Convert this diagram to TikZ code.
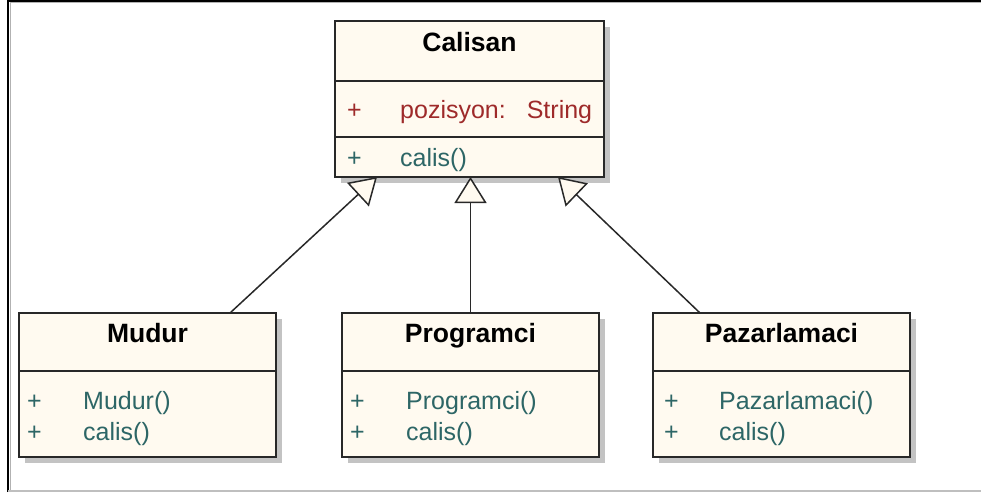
\documentclass[tikz,border=0pt]{standalone}
\usepackage{fontspec}
\setmainfont{Liberation Sans}
\usetikzlibrary{arrows.meta,shadows,calc}

\definecolor{umlfill}{RGB}{255,250,240}
\definecolor{umlline}{RGB}{40,40,40}
\definecolor{attrred}{RGB}{158,42,42}
\definecolor{opteal}{RGB}{45,102,102}
\definecolor{shadowgray}{RGB}{195,195,195}

\begin{document}
\begin{tikzpicture}[x=1pt,y=-1pt,
  classbox/.style={draw=umlline, line width=1.8pt, fill=umlfill,
    inner sep=0pt, outer sep=0pt, anchor=north west,
    drop shadow={shadow xshift=6pt, shadow yshift=-6pt,
      fill=shadowgray, opacity=1}},
  sepline/.style={draw=umlline, line width=1.8pt},
  classtitle/.style={font=\fontsize{26.5}{30}\selectfont\bfseries,
    anchor=base, inner sep=0pt, text=black},
  member/.style={font=\fontsize{25}{29}\selectfont,
    anchor=base west, inner sep=0pt},
  attr/.style={member, text=attrred},
  oper/.style={member, text=opteal},
  inherits/.style={draw=umlline, line width=1.5pt,
    -{Triangle[open, length=26pt, width=32pt, fill=umlfill]}}
]
\useasboundingbox (0,0) rectangle (981,492);

% window frame
\draw[black, line width=2pt] (8,492) -- (8,1) -- (981,1);
\draw[gray!60, line width=1pt] (10,492) -- (10,3) -- (981,3);
\draw[gray!50, line width=1.5pt] (8,491) -- (981,491);

% superclass
\node[classbox, minimum width=269pt, minimum height=156pt] (calisan) at (335,21) {};
\draw[sepline] ($(calisan.north west)+(0,60)$) -- ($(calisan.north east)+(0,60)$);
\draw[sepline] ($(calisan.north west)+(0,116)$) -- ($(calisan.north east)+(0,116)$);
\node[classtitle] (calisan-t) at (469.5,52) {Calisan};
\node[attr] (calisan-ap) at (347,118) {+};
\node[attr] (calisan-a) at (400,118) {pozisyon:\hskip 21pt String};
\node[oper] (calisan-op) at (347,166) {+};
\node[oper] (calisan-o) at (400,166) {calis()};

% subclasses
\node[classbox, minimum width=257pt, minimum height=144pt] (mudur) at (19,313) {};
\node[classbox, minimum width=257pt, minimum height=144pt] (programci) at (342,313) {};
\node[classbox, minimum width=257pt, minimum height=144pt] (pazarlamaci) at (653,313) {};
\foreach \c in {mudur,programci,pazarlamaci}
  \draw[sepline] ($(\c.north west)+(0,58)$) -- ($(\c.north east)+(0,58)$);

\node[classtitle] (mudur-t) at (147.5,342) {Mudur};
\node[oper] (mudur-p1) at (27,409) {+};
\node[oper] (mudur-o1) at (83,409) {Mudur()};
\node[oper] (mudur-p2) at (27,440) {+};
\node[oper] (mudur-o2) at (83,440) {calis()};

\node[classtitle] (programci-t) at (470.5,342) {Programci};
\node[oper] (programci-p1) at (350,409) {+};
\node[oper] (programci-o1) at (406,409) {Programci()};
\node[oper] (programci-p2) at (350,440) {+};
\node[oper] (programci-o2) at (406,440) {calis()};

\node[classtitle] (pazarlamaci-t) at (781.5,342) {Pazarlamaci};
\node[oper] (pazarlamaci-p1) at (664,409) {+};
\node[oper] (pazarlamaci-o1) at (719,409) {Pazarlamaci()};
\node[oper] (pazarlamaci-p2) at (664,440) {+};
\node[oper] (pazarlamaci-o2) at (719,440) {calis()};

% generalisations
\coordinate (mudur-up) at ($(mudur.north west)+(211,0)$);
\coordinate (calisan-in-l) at ($(calisan.south west)+(42,0)$);
\coordinate (pazarlamaci-up) at ($(pazarlamaci.north west)+(47,0)$);
\coordinate (calisan-in-r) at ($(calisan.south west)+(223,0)$);
\draw[inherits] (mudur-up) -- (calisan-in-l);
\draw[inherits] (programci.north) -- (programci.north |- calisan.south);
\draw[inherits] (pazarlamaci-up) -- (calisan-in-r);
\end{tikzpicture}
\end{document}
